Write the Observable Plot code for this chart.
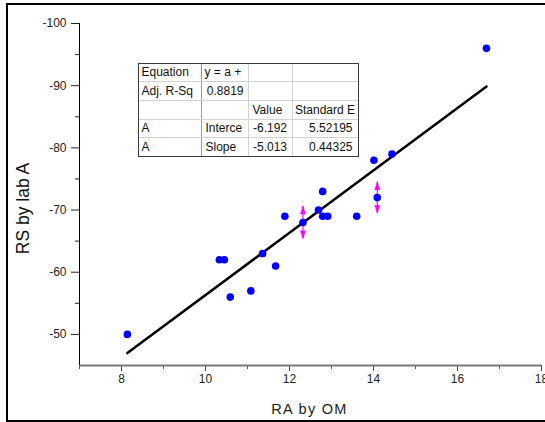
<!DOCTYPE html>
<html>
<head>
<meta charset="utf-8">
<script src="https://cdn.jsdelivr.net/npm/d3@7"></script>
<script src="https://cdn.jsdelivr.net/npm/@observablehq/plot@0.6"></script>
<style>
  html, body { margin: 0; padding: 0; background: #fff; }
  #wrap { position: relative; width: 545px; height: 422px; overflow: hidden; background: #fff;
          font-family: Arial, "Liberation Sans", sans-serif; }
  #chart { position: absolute; left: 0; top: 0; }
  #frame { position: absolute; left: 6px; top: 3px; width: 600px; height: 415px;
           border: 2px solid #000; pointer-events: none; }
  #fit { position: absolute; left: 137.5px; top: 62.5px; width: 220px; border-collapse: collapse;
         table-layout: fixed; font-size: 12px; color: #111; background: #fff;
         outline: 1px solid #3a3a3a; outline-offset: -1px; }
  #fit td { height: 18.7px; box-sizing: border-box; padding: 0 3px; line-height: 16px;
            border: 1px solid #d2d2d2; white-space: nowrap; overflow: hidden; }
  #fit td:nth-child(1) { border-right-color: #9a9a9a; }
  #fit td.r { text-align: right; padding-right: 5px; }
</style>
</head>
<body>
<div id="wrap">
  <div id="chart"></div>
  <table id="fit">
    <colgroup><col style="width:63px"><col style="width:47px"><col style="width:44.5px"><col style="width:65.5px"></colgroup>
    <tbody></tbody>
  </table>
  <div id="frame"></div>
</div>
<script>
// ---- data ----
const xVals = [8.14, 10.33, 10.45, 10.59, 11.08, 11.36, 11.67, 11.89, 12.32, 12.69, 12.79, 12.79, 12.91, 13.60, 14.01, 14.09, 14.44, 16.69];
const yVals = [-50, -62, -62, -56, -57, -63, -61, -69, -68, -70, -73, -69, -69, -69, -78, -72, -79, -96];

// vertical error arrows (magenta)
const errX = [12.32, 14.09];
const errY = [-68, -72];
const errD = [2.6, 2.5];

// fit table
const tableLabels = ["Equation", "Adj. R-Sq"];
const equationText = "y = a +";
const adjR2 = "0.8819";
const headerCols = ["Value", "Standard E"];
const paramRows = ["A", "A"];
const paramNames = ["Interce", "Slope"];
const paramValues = [-6.192, -5.013];
const paramErrors = ["5.52195", "0.44325"];

// axes
const xTicks = [8, 10, 12, 14, 16, 18];
const xMinor = [7, 9, 11, 13, 15, 17];
const yTicks = [-50, -60, -70, -80, -90, -100];
const yMinor = [-55, -65, -75, -85, -95];
const xTitle = "RA by OM";
const yTitle = "RS by lab A";

// ---- build ----
const pts = xVals.map((x, i) => ({x, y: yVals[i]}));
const errs = errX.map((x, i) => ({x, y: errY[i], top: errY[i] - errD[i], bot: errY[i] + errD[i]}));
const intercept = paramValues[0], slope = paramValues[1];
const fit = d3.extent(xVals).map(x => ({x, y: intercept + slope * x}));

const chart = Plot.plot({
  width: 545, height: 422,
  marginLeft: 79, marginRight: 4, marginTop: 23, marginBottom: 57,
  style: {fontFamily: 'Arial, "Liberation Sans", sans-serif', fontSize: "12px", background: "transparent"},
  x: {domain: [7, 18]},
  y: {domain: [-45, -100]},
  marks: [
    Plot.axisX(xMinor, {tickSize: 4, tickFormat: () => "", label: null, stroke: "#555"}),
    Plot.axisX(xTicks, {tickSize: 6, tickPadding: 3, label: null, stroke: "#444", fill: "#222", fontSize: 12, tickFormat: d => String(d)}),
    Plot.axisY(yMinor, {tickSize: 4, tickFormat: () => "", label: null, stroke: "#222"}),
    Plot.axisY(yTicks, {tickSize: 8, tickPadding: 5, label: null, stroke: "#222", fill: "#222", fontSize: 12, tickFormat: d => String(d)}),
    Plot.ruleY([-45], {stroke: "#7a7a7a", strokeWidth: 2}),
    Plot.ruleX([7], {stroke: "#000", strokeWidth: 1}),
    Plot.line(fit, {x: "x", y: "y", stroke: "#000", strokeWidth: 2.5}),
    Plot.ruleX(errs, {x: "x", y1: "top", y2: "bot", stroke: "#ff00ff", strokeWidth: 1.2}),
    Plot.dot(pts, {x: "x", y: "y", r: 3.8, fill: "#0000ff", stroke: "none"}),
    Plot.vector(errs, {x: "x", y: "top", length: 8, r: 2.6, rotate: 0, anchor: "end", shape: "spike", fill: "#ff00ff", stroke: "#ff00ff", strokeWidth: 0.5}),
    Plot.vector(errs, {x: "x", y: "bot", length: 8, r: 2.6, rotate: 180, anchor: "end", shape: "spike", fill: "#ff00ff", stroke: "#ff00ff", strokeWidth: 0.5}),
    Plot.text([yTitle], {text: d => d, frameAnchor: "left", dx: -56, dy: 14, rotate: -90, fontSize: 17.5, fill: "#111", textAnchor: "middle", lineAnchor: "middle"}),
    Plot.text([xTitle], {text: d => d, frameAnchor: "bottom", dx: -1, dy: 44, fontSize: 14.5, fill: "#222", textAnchor: "middle", lineAnchor: "middle"})
  ]
});
document.getElementById("chart").appendChild(chart);
d3.select(chart).selectAll("text").filter(function() { return this.textContent === xTitle; })
  .style("letter-spacing", "1.3px");

// table
const rows = [
  [tableLabels[0], equationText, "", ""],
  [tableLabels[1], adjR2, "", ""],
  ["", "", headerCols[0], headerCols[1]],
  [paramRows[0], paramNames[0], String(paramValues[0]), paramErrors[0]],
  [paramRows[1], paramNames[1], String(paramValues[1]), paramErrors[1]]
];
const tbody = d3.select("#fit tbody");
rows.forEach((r, ri) => {
  const tr = tbody.append("tr");
  r.forEach((c, ci) => {
    const td = tr.append("td").text(c);
    const isNum = (ri >= 3 && ci >= 2) || (ri === 1 && ci === 1);
    if (isNum) td.attr("class", "r");
    if (ri === 1 && ci === 1) td.style("padding-right", "4px");
    if (ri === 3 || ri === 4) { if (ci === 1) td.style("padding-left", "4px"); }
    if (ri === 2 && ci === 2) td.style("padding-left", "4px");
    if (ri === 2 && ci === 3) td.style("padding-left", "2px");
  });
});
</script>
</body>
</html>
